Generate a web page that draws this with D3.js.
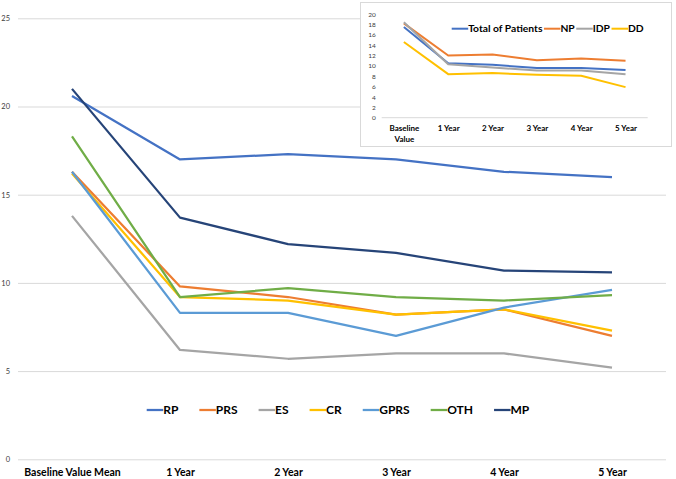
<!DOCTYPE html>
<html>
<head>
<meta charset="utf-8">
<script src="https://cdn.jsdelivr.net/npm/d3@7/dist/d3.min.js"></script>
<style>
  html, body { margin: 0; padding: 0; background: #fff; }
  svg { display: block; }
  text { font-family: Lato, "Open Sans", sans-serif; }
</style>
</head>
<body>
<svg id="chart" width="676" height="479"></svg>
<script>
// ---------- data ----------
const categories = ["Baseline Value Mean", "1 Year", "2 Year", "3 Year", "4 Year", "5 Year"];
const yTicks = [0, 5, 10, 15, 20, 25];
const seriesNames = ["RP", "PRS", "ES", "CR", "GPRS", "OTH", "MP"];
const RP   = [20.6, 17.0, 17.3, 17.0, 16.3, 16.0];
const PRS  = [16.3, 9.8, 9.2, 8.2, 8.5, 7.0];
const ES   = [13.8, 6.2, 5.7, 6.0, 6.0, 5.2];
const CR   = [16.2, 9.2, 9.0, 8.2, 8.5, 7.3];
const GPRS = [16.3, 8.3, 8.3, 7.0, 8.6, 9.6];
const OTH  = [18.3, 9.2, 9.7, 9.2, 9.0, 9.3];
const MP   = [21.0, 13.7, 12.2, 11.7, 10.7, 10.6];
const seriesColors = ["#4472C4", "#ED7D31", "#A5A5A5", "#FFC000", "#5B9BD5", "#70AD47", "#264478"];

const insetCategories = ["Baseline Value", "1 Year", "2 Year", "3 Year", "4 Year", "5 Year"];
const insetTicks = [0, 2, 4, 6, 8, 10, 12, 14, 16, 18, 20];
const insetNames = ["Total of Patients", "NP", "IDP", "DD"];
const TOTAL = [17.5, 10.5, 10.2, 9.6, 9.6, 9.2];
const NP    = [18.2, 12.0, 12.2, 11.1, 11.4, 11.0];
const IDP   = [18.4, 10.3, 9.7, 9.1, 9.1, 8.4];
const DD    = [14.6, 8.4, 8.6, 8.3, 8.1, 5.9];
const insetColors = ["#4472C4", "#ED7D31", "#A5A5A5", "#FFC000"];

(function draw() {
// ---------- main chart ----------
const svg = d3.select("#chart");
const mainSeries = [RP, PRS, ES, CR, GPRS, OTH, MP].map((v, i) => ({name: seriesNames[i], values: v, color: seriesColors[i]}));

const pLeft = 18, pRight = 666, pTop = 18.3, pBottom = 459.3;
const x = d3.scalePoint().domain(categories).range([pLeft, pRight]).padding(0.5);
const y = d3.scaleLinear().domain([0, 25]).range([pBottom, pTop]);

const gy = svg.append("g").attr("transform", `translate(${pLeft},0)`)
  .call(d3.axisLeft(y).tickValues(yTicks).tickSize(-(pRight - pLeft)).tickPadding(8));
gy.select(".domain").remove();
gy.selectAll(".tick line").attr("stroke", "#d9d9d9").attr("stroke-width", 1);
gy.selectAll(".tick text").attr("fill", "#404040").style("font-size", "7.5px").style("font-family", "Lato, sans-serif");

const gx = svg.append("g").attr("transform", `translate(0,${pBottom})`)
  .call(d3.axisBottom(x).tickSize(0).tickPadding(9));
gx.select(".domain").remove();
gx.selectAll(".tick text").attr("fill", "#000").style("font-size", "10.5px").style("font-weight", "bold").style("font-family", "Lato, sans-serif");

const line = d3.line().x((d, i) => x(categories[i])).y(d => y(d));
svg.append("g").selectAll("path").data(mainSeries).join("path")
  .attr("d", d => line(d.values))
  .attr("fill", "none").attr("stroke", d => d.color)
  .attr("stroke-width", 2.25).attr("stroke-linejoin", "round");

// main legend (flow layout)
const leg = svg.append("g");
let lx = 146.7;
const ly = 410;
mainSeries.forEach(s => {
  leg.append("line").attr("x1", lx).attr("x2", lx + 16.5).attr("y1", ly).attr("y2", ly)
    .attr("stroke", s.color).attr("stroke-width", 2.25);
  const t = leg.append("text").attr("x", lx + 16.5).attr("y", ly + 4.3)
    .attr("font-size", "12px").attr("font-weight", "bold").attr("fill", "#000").text(s.name);
  lx += 16.5 + t.node().getComputedTextLength() + 21;
});

// ---------- inset chart ----------
const ins = svg.append("g");
ins.append("rect").attr("x", 360.5).attr("y", 2.5).attr("width", 311).attr("height", 144)
  .attr("fill", "#fff").attr("stroke", "#d9d9d9").attr("stroke-width", 1);

const iLeft = 381.7, iRight = 647.7, iBottom = 117.7, iTop = 14;
const ix = d3.scalePoint().domain(insetCategories).range([iLeft, iRight]).padding(0.5);
const iy = d3.scaleLinear().domain([0, 20]).range([iBottom, iTop]);

const igy = ins.append("g").attr("transform", `translate(${iLeft},0)`)
  .call(d3.axisLeft(iy).tickValues(insetTicks).tickSize(0).tickPadding(6));
igy.select(".domain").remove();
igy.selectAll(".tick text").attr("fill", "#404040").style("font-size", "6.5px").style("font-family", "Lato, sans-serif");

ins.append("line").attr("x1", iLeft).attr("x2", iRight).attr("y1", iBottom).attr("y2", iBottom)
  .attr("stroke", "#d9d9d9").attr("stroke-width", 1);

const igx = ins.append("g").attr("transform", `translate(0,${iBottom})`)
  .call(d3.axisBottom(ix).tickSize(0).tickPadding(8));
igx.select(".domain").remove();
igx.selectAll(".tick text").attr("fill", "#000").style("font-size", "8px").style("font-weight", "bold")
  .style("font-family", "Lato, sans-serif")
  .each(function(d) {
    const words = d.split(" ");
    if (d.startsWith("Baseline")) {
      const t = d3.select(this); t.text(null);
      t.append("tspan").attr("x", 0).attr("dy", "0.71em").text(words[0]);
      t.append("tspan").attr("x", 0).attr("dy", "1.3em").text(words[1]);
    }
  });

const insetSeries = [TOTAL, NP, IDP, DD].map((v, i) => ({name: insetNames[i], values: v, color: insetColors[i]}));
const iline = d3.line().x((d, i) => ix(insetCategories[i])).y(d => iy(d));
ins.append("g").selectAll("path").data(insetSeries).join("path")
  .attr("d", d => iline(d.values))
  .attr("fill", "none").attr("stroke", d => d.color)
  .attr("stroke-width", 2).attr("stroke-linejoin", "round");

// inset legend
let ilx = 451.7;
const ily = 28.7;
insetSeries.forEach(s => {
  ins.append("line").attr("x1", ilx).attr("x2", ilx + 16.5).attr("y1", ily).attr("y2", ily)
    .attr("stroke", s.color).attr("stroke-width", 2);
  const t = ins.append("text").attr("x", ilx + 16.5).attr("y", ily + 3.7)
    .attr("font-size", "10.3px").attr("font-weight", "bold").attr("fill", "#000").text(s.name);
  ilx += 16.5 + t.node().getComputedTextLength() + 1.5;
});
})();
</script>
</body>
</html>
